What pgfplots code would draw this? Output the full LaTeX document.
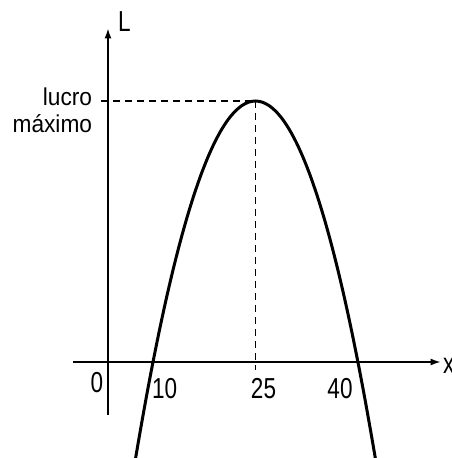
\documentclass[border=0pt]{standalone}
\usepackage{fontspec}
\setmainfont{Liberation Sans}[FakeStretch=0.93]
\newfontfamily\numfam{Liberation Sans}[FakeStretch=0.78]
\usepackage{pgfplots}
\pgfplotsset{compat=1.18}
\usetikzlibrary{arrows.meta}

% profit L(x) = (x-10)(40-x): roots at 10 and 40, maximum at x = 25
\pgfplotstableread{
x     L
7.4   -84.76
8     -64
9     -31
10    0
11    29
12    56
13    81
14    104
15    125
16    144
17    161
18    176
19    189
20    200
21    209
22    216
23    221
24    224
25    225
26    224
27    221
28    216
29    209
30    200
31    189
32    176
33    161
34    144
35    125
36    104
37    81
38    56
39    29
40    0
41    -31
42    -64
42.6  -84.76
}\lucro

\newcommand\numfont{\numfam\fontsize{29}{32}\selectfont}
\newcommand\txtfont{\fontsize{24.5}{28}\selectfont}

\begin{document}
\begin{tikzpicture}
\begin{axis}[
  scale only axis, width=451bp, height=458bp,
  xmin=-12.4, xmax=53.63, ymin=-82.76, ymax=312.07,
  hide axis, clip mode=individual,
]
  % axes
  \draw[line width=1.4bp, -{Latex[length=10bp,width=7bp]}]
    (axis cs:-1.71,0) -- (axis cs:52.1,0);
  \draw[line width=1.4bp, -{Latex[length=10bp,width=7bp]}]
    (axis cs:3.41,-45.7) -- (axis cs:3.41,287.5);

  % guides to the maximum
  \draw[line width=1.2bp, dash pattern=on 7bp off 5bp]
    (axis cs:2.39,225) -- (axis cs:25,225);
  \draw[line width=1.2bp, dash pattern=on 7bp off 5bp]
    (axis cs:25,225) -- (axis cs:25,-6.9);

  % profit curve
  \addplot[line width=3bp, smooth] table[x=x, y=L] {\lucro};

  % labels
  \node[inner sep=0pt, anchor=base] at (axis cs:1.80,-25.9) {\numfont 0};
  \node[inner sep=0pt, anchor=base] at (axis cs:11.71,-31.3) {\numfont 10};
  \node[inner sep=0pt, anchor=base] at (axis cs:26.18,-31.3) {\numfont 25};
  \node[inner sep=0pt, anchor=base] at (axis cs:37.38,-31.3) {\numfont 40};
  \node[inner sep=0pt, anchor=base west] at (axis cs:52.46,-9.5) {\numfont x};
  \node[inner sep=0pt, anchor=base west] at (axis cs:4.88,284.5) {\numfont L};
  \node[inner sep=0pt, anchor=base east] at (axis cs:1.11,221) {\txtfont lucro};
  \node[inner sep=0pt, anchor=base east] at (axis cs:1.11,198) {\txtfont máximo};
\end{axis}
\pgfresetboundingbox
\path[use as bounding box] (current axis.south west) rectangle (current axis.north east);
\end{tikzpicture}
\end{document}
